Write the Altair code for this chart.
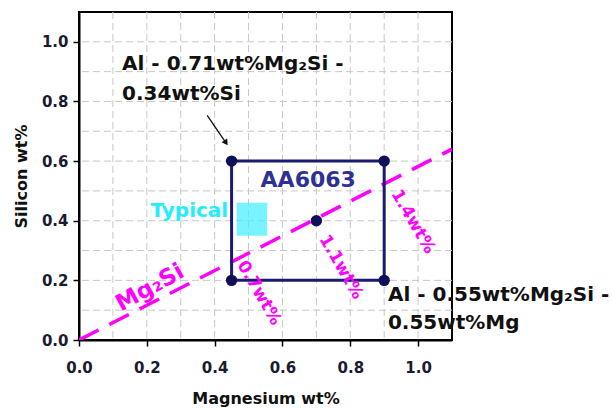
import altair as alt
import pandas as pd

# ---------------- data ----------------
grid_vals = [0.1, 0.2, 0.3, 0.4, 0.5, 0.6, 0.7, 0.8, 0.9, 1.0]
tick_vals = [0.0, 0.2, 0.4, 0.6, 0.8, 1.0]

# Mg2Si stoichiometric line
line_mg = [0.0, 1.1]
line_si = [0.0, 0.64]

# AA6063 composition box
box_mg = [0.45, 0.9]
box_si = [0.2, 0.6]
corner_mg = [0.45, 0.9, 0.45, 0.9, 0.7]
corner_si = [0.2, 0.2, 0.6, 0.6, 0.4]

# typical patch
typ_mg = [0.465, 0.555]
typ_si = [0.35, 0.46]

# iso-Mg2Si labels
iso_text = ["1.1wt%", "1.4wt%", "0.7wt%"]
iso_mg = [0.773, 0.985, 0.531]
iso_si = [0.245, 0.397, 0.158]

# annotations
ann1_text = ["Al - 0.71wt%Mg₂Si -", "0.34wt%Si"]
ann1_mg = [0.127, 0.127]
ann1_si = [0.924, 0.824]
ann2_text = ["Al - 0.55wt%Mg₂Si -", "0.55wt%Mg"]
ann2_mg = [0.911, 0.911]
ann2_si = [0.151, 0.057]

arrow_mg = [0.378, 0.432]
arrow_si = [0.753, 0.664]

FONT = "DejaVu Sans"
NAVY = "#1a1a6e"
MAGENTA = "#ff00ff"

xs = alt.Scale(domain=[0, 1.1], nice=False, zero=False)
ys = alt.Scale(domain=[0, 1.1], nice=False, zero=False)

common_axis = dict(values=tick_vals, format=".1f", grid=False, domainColor="black",
                   domainWidth=2, tickColor="black", tickWidth=1.5, tickSize=6,
                   labelFont=FONT, labelFontSize=15, labelFontWeight="bold",
                   labelColor="#1b1b2f", labelFlush=False, labelOverlap=False,
                   titleFont=FONT, titleFontSize=16, titleFontWeight="bold",
                   titleColor="#111111")
xaxis = alt.Axis(title="Magnesium wt%", labelPadding=14, titlePadding=15, **common_axis)
yaxis = alt.Axis(title="Silicon wt%", labelPadding=5, titlePadding=12, **common_axis)

def X(f="x"):
    return alt.X(f + ":Q", scale=xs, axis=xaxis)

def Y(f="y"):
    return alt.Y(f + ":Q", scale=ys, axis=yaxis)

grid_df = pd.DataFrame({"x": grid_vals, "y": grid_vals})
vgrid = alt.Chart(grid_df).mark_rule(color="#c8c8c8", strokeWidth=1, strokeDash=[7, 4]).encode(x=X())
hgrid = alt.Chart(grid_df).mark_rule(color="#c8c8c8", strokeWidth=1, strokeDash=[7, 4]).encode(y=Y())

typ_df = pd.DataFrame({"x": [typ_mg[0]], "x2": [typ_mg[1]], "y": [typ_si[0]], "y2": [typ_si[1]]})
typ = alt.Chart(typ_df).mark_rect(fill="#40eeff", opacity=0.7).encode(
    x=X(), x2="x2:Q", y=Y(), y2="y2:Q")

line_df = pd.DataFrame({"x": line_mg, "y": line_si})
mgline = alt.Chart(line_df).mark_line(color=MAGENTA, strokeWidth=3.5, strokeDash=[22, 12], clip=True).encode(
    x=X(), y=Y())

box_df = pd.DataFrame({"x": [box_mg[0]], "x2": [box_mg[1]], "y": [box_si[0]], "y2": [box_si[1]]})
box = alt.Chart(box_df).mark_rect(fill=None, stroke=NAVY, strokeWidth=3).encode(
    x=X(), x2="x2:Q", y=Y(), y2="y2:Q")

pts_df = pd.DataFrame({"x": corner_mg, "y": corner_si})
pts = alt.Chart(pts_df).mark_point(filled=True, color="#0f0f5a", size=130, opacity=1).encode(x=X(), y=Y())

iso_df = pd.DataFrame({"x": iso_mg, "y": iso_si, "t": iso_text})
iso = alt.Chart(iso_df).mark_text(font=FONT, fontSize=17, fontWeight="bold", color=MAGENTA,
                                  angle=60, align="center", baseline="middle").encode(
    x=X(), y=Y(), text="t:N")

mglab_df = pd.DataFrame({"x": [0.209], "y": [0.175], "t": ["Mg₂Si"]})
mglab = alt.Chart(mglab_df).mark_text(font=FONT, fontSize=23, fontWeight="bold", color=MAGENTA,
                                      angle=331, align="center", baseline="middle").encode(
    x=X(), y=Y(), text="t:N")

aa_df = pd.DataFrame({"x": [0.676], "y": [0.538], "t": ["AA6063"]})
aa = alt.Chart(aa_df).mark_text(font=FONT, fontSize=22, fontWeight="bold", color="#2e3192",
                                align="center", baseline="middle").encode(x=X(), y=Y(), text="t:N")

typt_df = pd.DataFrame({"x": [0.44], "y": [0.431], "t": ["Typical"]})
typt = alt.Chart(typt_df).mark_text(font=FONT, fontSize=20, fontWeight="bold", color="#22eeff",
                                    align="right", baseline="middle").encode(x=X(), y=Y(), text="t:N")

ann_df = pd.DataFrame({"x": ann1_mg + ann2_mg, "y": ann1_si + ann2_si, "t": ann1_text + ann2_text})
ann = alt.Chart(ann_df).mark_text(font=FONT, fontSize=20, fontWeight="bold", color="#111111",
                                  align="left", baseline="middle").encode(x=X(), y=Y(), text="t:N")

arr_df = pd.DataFrame({"x": [arrow_mg[0]], "y": [arrow_si[0]], "x2": [arrow_mg[1]], "y2": [arrow_si[1]]})
arr = alt.Chart(arr_df).mark_rule(color="#111111", strokeWidth=1.3).encode(
    x=X(), y=Y(), x2="x2:Q", y2="y2:Q")
head_df = pd.DataFrame({"x": [arrow_mg[1]], "y": [arrow_si[1]]})
head = alt.Chart(head_df).mark_point(shape="triangle", filled=True, color="#111111", size=45,
                                     angle=146, opacity=1).encode(x=X(), y=Y())

chart = alt.layer(vgrid, hgrid, typ, mgline, box, pts, iso, mglab, aa, typt, ann, arr, head).properties(
    width=373, height=328,
    autosize=alt.AutoSizeParams(type="none"),
    padding={"left": 79, "top": 12, "right": 160, "bottom": 69},
    background="white",
).configure_view(stroke="black", strokeWidth=2)

chart.save("out.html", embed_options={"renderer": "svg", "actions": False})
